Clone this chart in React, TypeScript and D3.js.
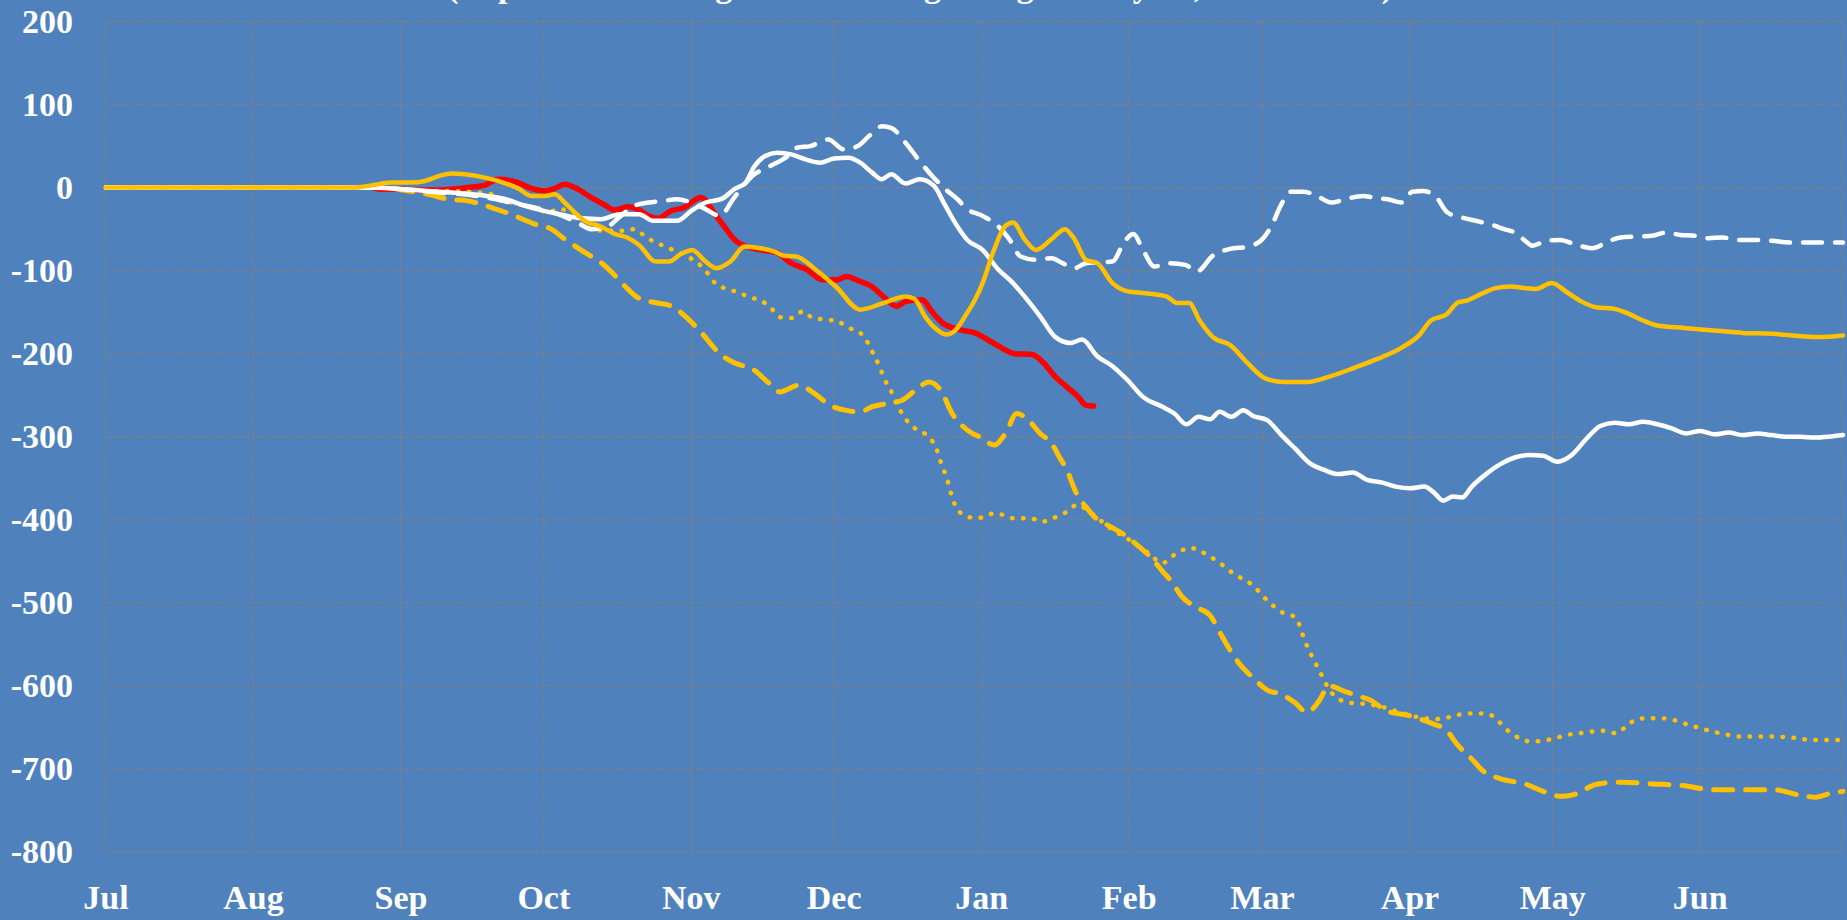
import React from "react";
import * as d3 from "d3";

type Pt = [number, number];

const monthLabels = ["Jul", "Aug", "Sep", "Oct", "Nov", "Dec", "Jan", "Feb", "Mar", "Apr", "May", "Jun"];
const monthStarts = [0, 31, 62, 92, 123, 153, 184, 215, 243, 274, 304, 335];
const yearEnd = 365;
const yTicks = [200, 100, 0, -100, -200, -300, -400, -500, -600, -700, -800];
const titleText = "(Export sales change since the beginning of the year, 1000 tonnes)";

// [day since Jul 1, value]
const redSolid: Pt[] = [[56,0],[58,-2],[62,-2],[66,-3],[70,-3],[72.6,-2],[76,0],[79.6,3],[82.4,10],[84.5,9],[86.6,6],[89.4,-1],[92.2,-4],[94.3,-1],[96.4,4],[98.5,0],[102,-12],[104.8,-21],[106.9,-27],[109.7,-23],[111.8,-26],[113.9,-34],[116,-37],[118.7,-28],[121.5,-24],[123.5,-16],[124.8,-12],[125.8,-14],[127.5,-28],[129.8,-46],[132.3,-64],[134.6,-71],[137.6,-75],[140.8,-78],[144,-91],[147.3,-99],[150.5,-111],[153.7,-111],[155.5,-107],[158.5,-113],[160.9,-119],[163.3,-131],[166.1,-143],[168.1,-137],[171.4,-135],[173.8,-151],[175.8,-163],[179.4,-171],[182.6,-175],[185.8,-185],[188.2,-193],[191,-200],[194.6,-201],[197,-211],[199.5,-228],[201.9,-240],[204.3,-252],[205.9,-262],[207.5,-263]];

const yellowSolid: Pt[] = [[0,0],[52,0],[56,3],[60,6],[64,6],[67,8],[70,14],[72.6,17],[75.4,16],[79.6,12],[83,7],[86.6,-1],[89.4,-10],[92.2,-10],[94.3,-8],[96.4,-18],[98.5,-30],[100.6,-40],[104,-47],[107,-56],[109.5,-60],[112,-69],[115.5,-89],[118.3,-89],[120.8,-80],[123.2,-75],[125.8,-88],[128.2,-97],[131.2,-89],[134.2,-71],[137.5,-73],[140.5,-77],[142.5,-82],[145,-83],[149.6,-101],[153.5,-120],[158.5,-147],[163.3,-139],[168.1,-131],[169.9,-134],[172.1,-155],[174.6,-171],[176.6,-177],[178.6,-171],[180.5,-155],[182.6,-135],[184.2,-115],[186.6,-75],[189,-46],[190.6,-42],[193,-62],[195.4,-75],[198.7,-62],[201.5,-50],[203.5,-62],[205.9,-87],[208.3,-91],[211.5,-115],[214.7,-125],[217.9,-127],[222.8,-131],[225.2,-139],[227.6,-139],[229.8,-160],[232.6,-180],[236.3,-190],[240,-212],[243.7,-230],[247.5,-234],[252.4,-234],[257.4,-227],[262.3,-217],[267.3,-206],[272.2,-193],[275.9,-178],[278.4,-160],[281.6,-153],[284.2,-138],[286,-136],[289,-128],[292,-121],[295,-119],[298,-121],[300.4,-122],[303.8,-115],[307,-126],[310,-137],[313,-144],[317,-146],[320,-152],[323,-160],[326,-166],[331.6,-169],[337.8,-172],[344,-175],[350.2,-176],[356.3,-179],[360,-180],[365,-178]];

const whiteSolid: Pt[] = [[0,0],[55,0],[60,-1],[65,-3],[70,-5],[75,-7],[80,-10],[84,-14],[88,-22],[92,-28],[96,-33],[100,-37],[104,-38],[108,-32],[112,-32],[115,-40],[120,-40],[123,-28],[126,-18],[129.6,-13],[132,-2],[134.4,6],[136.2,25],[138.5,38],[141,42],[144,40],[147,34],[150,30],[153,35],[156,36],[158.5,30],[161,18],[163,10],[165,16],[168,5],[171,10],[174,2],[176.2,-20],[178.6,-44],[181,-63],[184.2,-75],[187.4,-98],[190.6,-115],[193,-131],[196.3,-155],[199.5,-180],[202.7,-187],[205.1,-183],[208.3,-203],[211.5,-215],[214.7,-232],[217.9,-252],[222,-264],[224.5,-272],[227,-285],[229.6,-276],[232,-279],[234,-270],[236.5,-276],[239,-268],[241,-275],[244,-280],[247,-298],[250,-315],[253,-332],[256,-340],[259,-345],[262,-343],[265,-352],[268,-355],[271,-360],[274,-362],[277,-360],[279,-367],[281,-377],[283,-372],[285,-373],[287,-360],[290,-345],[293,-333],[296,-325],[299,-322],[302,-323],[305,-330],[308,-322],[311,-303],[314,-287],[317,-283],[320,-285],[323,-282],[326,-285],[329,-290],[332,-296],[335,-293],[338,-297],[341,-295],[344,-298],[347,-296],[350,-298],[353,-300],[356,-300],[359,-301],[362,-300],[365,-298]];

const whiteDashed: Pt[] = [[0,0],[56,0],[60,-1],[65,-3],[70,-6],[75,-8],[80,-12],[85,-18],[90,-24],[95,-32],[99,-42],[102,-50],[105,-48],[108,-35],[111,-22],[114,-18],[117,-16],[120,-14],[123,-18],[126,-26],[129,-34],[132,-12],[135.8,14],[139.6,26],[143.3,38],[145.2,48],[148,50],[151.8,58],[155,46],[158,50],[160.3,62],[163.2,74],[165,72],[168,54],[170.7,34],[173.6,14],[176.4,-2],[179.3,-16],[180.5,-24],[184.2,-34],[187.4,-46],[189.8,-62],[192.2,-83],[195.4,-87],[198.7,-85],[201,-91],[203.5,-97],[205.9,-91],[208.3,-90],[211.5,-89],[213.9,-66],[215.9,-56],[217.9,-75],[220.3,-95],[223.6,-91],[226.8,-93],[229.2,-101],[232.6,-82],[236,-74],[240,-71],[243,-62],[245,-45],[247,-20],[249,-5],[251.6,-5],[253.8,-8],[257.5,-18],[260.4,-14],[264.1,-10],[267.1,-13],[269.3,-14],[272.3,-18],[274.5,-5],[276.7,-4],[279.3,-10],[281.9,-30],[284.9,-36],[288.6,-41],[290.8,-44],[293.8,-50],[296,-54],[298.2,-64],[299.7,-70],[302.7,-64],[305.6,-63],[308.6,-68],[312.3,-73],[315.3,-66],[318.2,-60],[321.9,-59],[324.9,-58],[327.9,-54],[330.8,-57],[333.8,-58],[336.7,-61],[339.7,-60],[342.7,-63],[347.1,-63],[350.1,-64],[353.8,-66],[358.2,-66],[363.8,-66],[365,-66]];

const yellowDashed: Pt[] = [[0,0],[58,0],[63.5,-4],[67.7,-8],[71.9,-14],[76.1,-16],[81,-24],[85.9,-34],[90.1,-44],[93.6,-50],[96.4,-62],[100.6,-78],[104.4,-92],[107.3,-108],[109.6,-122],[111.9,-133],[115.9,-139],[118.5,-142],[122.3,-158],[125.3,-176],[128.8,-199],[132,-211],[136,-219],[139.2,-235],[141.6,-246],[145.6,-238],[148.9,-248],[152.1,-262],[155.3,-268],[158.5,-270],[160.9,-264],[164.1,-260],[167.3,-256],[170.5,-242],[172.9,-234],[175.4,-244],[177.8,-272],[181,-292],[184.2,-302],[186.6,-310],[189,-296],[191.4,-272],[193.8,-280],[196.3,-296],[198.7,-308],[200.3,-324],[201.9,-340],[203.9,-368],[206,-385],[208,-398],[211,-408],[214,-418],[217,-432],[220,-448],[222,-462],[224,-475],[226,-492],[229,-505],[232,-515],[234,-535],[236,-555],[238,-572],[241,-590],[244,-605],[247,-610],[249.8,-620],[252.4,-632],[254.9,-618],[257,-600],[260,-606],[263,-612],[266,-618],[269,-630],[274,-636],[279,-646],[281.6,-653],[284,-671],[287,-688],[289.3,-702],[293.1,-712],[298.2,-718],[302,-727],[305.8,-733],[308.4,-731],[313.5,-718],[318.5,-716],[324.9,-718],[331.3,-720],[337.6,-725],[345.3,-725],[350.4,-725],[355.5,-731],[359.3,-734],[362.5,-729],[365,-727]];

const yellowDotted: Pt[] = [[0,0],[58,0],[62,-2],[67,-4],[72,-4],[78,-6],[81,-8],[83,-16],[85.2,-18],[88,-22],[90.8,-26],[92.9,-30],[95,-26],[99.2,-32],[102,-50],[104.8,-52],[109,-52],[111.1,-50],[113.5,-60],[115.9,-67],[117.9,-72],[120.3,-78],[122.5,-84],[124.4,-91],[126.4,-103],[128,-115],[130.4,-122],[132.8,-126],[135.2,-132],[137.6,-136],[139.6,-144],[141.6,-156],[144,-157],[146.5,-149],[148.5,-157],[151.3,-159],[153.7,-161],[156.1,-169],[158.5,-175],[160.1,-187],[161.3,-201],[162.5,-215],[163.7,-232],[164.9,-244],[166.1,-260],[167.3,-272],[168.5,-282],[170.5,-292],[172.9,-300],[174.6,-316],[175.4,-330],[176.2,-342],[177,-356],[177.8,-373],[179,-388],[181,-396],[183,-398],[187,-392],[190.5,-398],[194,-398],[197,-402],[199,-398],[202,-390],[204,-382],[207,-392],[211,-410],[215,-424],[219,-440],[222,-452],[225,-440],[228,-434],[230,-438],[234,-452],[237,-465],[241,-479],[244,-497],[247,-511],[250,-518],[252,-547],[255,-582],[257.5,-608],[261,-620],[265,-622],[268,-625],[272,-632],[276,-638],[280,-640],[282,-638],[285,-634],[288,-633],[290.5,-634],[292.5,-642],[294.4,-653],[297,-663],[299.5,-667],[302,-666],[304.5,-663],[307,-659],[309.6,-657],[312.2,-655],[314.7,-654],[317.3,-657],[319.8,-647],[321.7,-640],[324.3,-639],[326.8,-639],[330,-642],[332.6,-647],[335.1,-651],[337.6,-655],[340.2,-658],[342.7,-661],[345,-661],[350,-661],[355.5,-663],[358,-665],[362,-665],[365,-665]];

const W = 1847;
const H = 920;
const FONT = "'Liberation Serif', 'DejaVu Serif', serif";

export default function App() {
  const x = d3.scaleLinear().domain([0, yearEnd]).range([106, 1843]);
  const y = d3.scaleLinear().domain([-800, 200]).range([852, 21.5]);
  const line = d3
    .line<Pt>()
    .x((d) => x(d[0]))
    .y((d) => y(d[1]))
    .curve(d3.curveMonotoneX);

  const series = [
    { data: redSolid, color: "#FF0000", width: 5.5, dash: null },
    { data: yellowDotted, color: "#FFC000", width: 4.5, dash: "0.5,10.5" },
    { data: yellowDashed, color: "#FFC000", width: 5, dash: "19,13" },
    { data: whiteDashed, color: "#FFFFFF", width: 4.5, dash: "19,13" },
    { data: whiteSolid, color: "#FFFFFF", width: 4.5, dash: null },
    { data: yellowSolid, color: "#FFC000", width: 4.5, dash: null },
  ];

  const vLines = [...monthStarts, yearEnd];

  return (
    <svg
      width={W}
      height={H}
      viewBox={`0 0 ${W} ${H}`}
      style={{ position: "fixed", left: 0, top: 0, display: "block" }}
    >
      <rect x={0} y={0} width={W} height={H} fill="#4F81BD" />
      <text
        x={920}
        y={-3}
        textAnchor="middle"
        fontFamily={FONT}
        fontWeight="bold"
        fontSize={34}
        fill="#FFFFFF"
      >
        {titleText}
      </text>
      <g stroke="#808080" strokeWidth={1.3} strokeDasharray="3,2" fill="none">
        {yTicks.map((t) => (
          <line key={"h" + t} x1={x(0)} x2={x(yearEnd)} y1={y(t)} y2={y(t)} />
        ))}
        {vLines.map((d) => (
          <line key={"v" + d} x1={x(d)} x2={x(d)} y1={y(200)} y2={y(-800)} />
        ))}
      </g>
      <g fontFamily={FONT} fontWeight="bold" fontSize={34} fill="#FFFFFF">
        {yTicks.map((t) => (
          <text key={"yl" + t} x={73} y={y(t) + 11} textAnchor="end">
            {t}
          </text>
        ))}
        {monthLabels.map((m, i) => (
          <text key={m} x={x(monthStarts[i])} y={909} textAnchor="middle">
            {m}
          </text>
        ))}
      </g>
      <g fill="none" strokeLinecap="round" strokeLinejoin="round">
        {series.map((s, i) => (
          <path
            key={i}
            d={line(s.data) || ""}
            stroke={s.color}
            strokeWidth={s.width}
            strokeDasharray={s.dash || undefined}
          />
        ))}
      </g>
    </svg>
  );
}
